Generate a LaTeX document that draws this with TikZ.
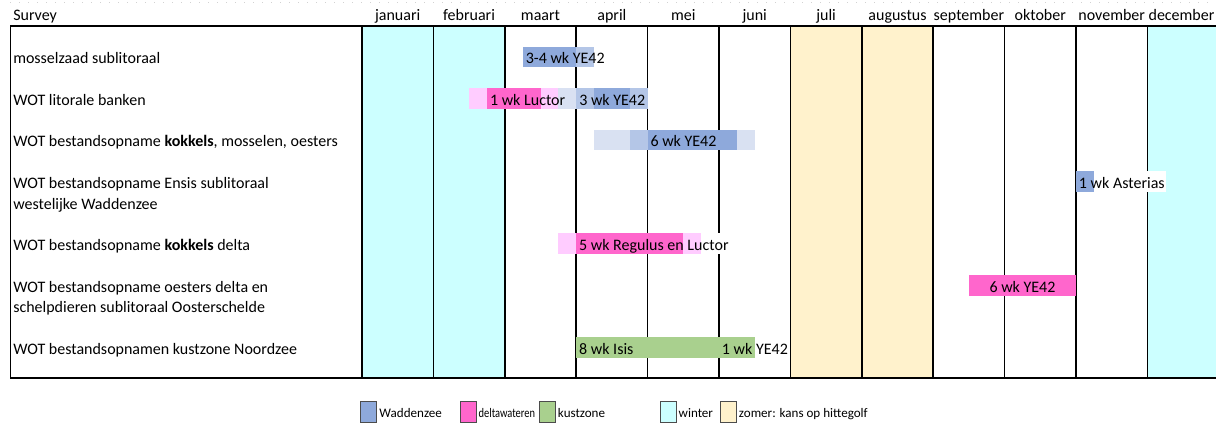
\documentclass[tikz,border=0pt]{standalone}
\usepackage{fontspec}
\setmainfont{Carlito}
\usepackage{tikz}
\usetikzlibrary{positioning}
\definecolor{waddenblue}{HTML}{8EA9DB}
\definecolor{waddenlight}{HTML}{B4C6E7}
\definecolor{waddenpale}{HTML}{D9E1F2}
\definecolor{deltapink}{HTML}{FF66CC}
\definecolor{deltalight}{HTML}{FFCCFF}
\definecolor{kustgreen}{HTML}{A9D08E}
\definecolor{wintercyan}{HTML}{CCFFFF}
\definecolor{zomeryellow}{HTML}{FFF2CC}

\begin{document}
\begin{tikzpicture}[
    x=0.75pt, y=-0.75pt,
    header/.style={anchor=base, inner sep=0pt, font=\fontsize{12}{14}\selectfont},
    survey/.style={anchor=base west, inner sep=0pt, font=\fontsize{12}{14}\selectfont},
    bartext/.style={anchor=base west, inner sep=0pt, font=\fontsize{12}{14}\selectfont},
    monthline/.style={line width=1.2pt},
    frame/.style={line width=2pt},
    legendbox/.style={draw=black!70, line width=0.6pt, minimum width=12pt, minimum height=15.75pt, inner sep=0pt},
    legendtext/.style={inner sep=0pt, text height=9pt, text depth=0.6pt, font=\fontsize{9.8}{12}\selectfont}
]
\useasboundingbox (0,0) rectangle (1216,423);
\draw[gray!35, line width=0.6pt, dash pattern=on 0.75pt off 6pt] (10,2) -- (1216,2);

% seasons
\fill[wintercyan] (362,26) rectangle (504.8,378);
\fill[wintercyan] (1147.4,26) rectangle (1218.8,378);
\fill[zomeryellow] (790.4,26) rectangle (933.2,378);

% header
\node[survey] (survey) at (13,21) {Survey};
\node[header] (jan) at (397.7,21) {januari};
\node[header] (feb) at (469.1,21) {februari};
\node[header] (mrt) at (540.5,21) {maart};
\node[header] (apr) at (611.9,21) {april};
\node[header] (mei) at (683.3,21) {mei};
\node[header] (jun) at (754.7,21) {juni};
\node[header] (jul) at (826.1,21) {juli};
\node[header] (aug) at (897.5,21) {augustus};
\node[header] (sep) at (968.9,21) {september};
\node[header] (okt) at (1040.3,21) {oktober};
\node[header] (nov) at (1111.7,21) {november};
\node[header] (dec) at (1181.5,21) {december};

\draw[monthline] (362,26) -- (362,378) (433.4,26) -- (433.4,378)
    (504.8,26) -- (504.8,378) (576.2,26) -- (576.2,378)
    (647.6,26) -- (647.6,378) (719,26) -- (719,378)
    (790.4,26) -- (790.4,378) (861.8,26) -- (861.8,378)
    (933.2,26) -- (933.2,378) (1004.6,26) -- (1004.6,378)
    (1076,26) -- (1076,378) (1147.4,26) -- (1147.4,378);
\draw[line width=0.75pt] (10,26) -- (10,378);
\draw[frame] (10,26) -- (1218.8,26);
\draw[frame] (10,378) -- (1218.8,378);

% surveys
\node[survey] (mosselzaad) at (13,64) {mosselzaad sublitoraal};
\node[survey] (litorale) at (13,105.5) {WOT litorale banken};
\node[survey] (kokkels) at (13,147) {WOT bestandsopname \textbf{kokkels}, mosselen, oesters};
\node[survey] (ensis) at (13,188.5) {WOT bestandsopname Ensis sublitoraal};
\node[survey] (ensisb) at (13,209.25) {westelijke Waddenzee};
\node[survey] (kokdelta) at (13,250.75) {WOT bestandsopname \textbf{kokkels} delta};
\node[survey] (oesters) at (13,292.25) {WOT bestandsopname oesters delta en};
\node[survey] (oestersb) at (13,313) {schelpdieren sublitoraal Oosterschelde};
\node[survey] (kust) at (13,354.5) {WOT bestandsopnamen kustzone Noordzee};

% bars
\fill[waddenblue] (522.65,46.75) rectangle (576.2,67.5);
\fill[waddenlight] (576.2,46.75) rectangle (594.05,67.5);
\node[bartext] (mosselbar) at (525.5,64) {3-4 wk YE42};

\fill[deltalight] (469.1,88.25) rectangle (486.95,109);
\fill[deltapink] (486.95,88.25) rectangle (540.5,109);
\fill[deltalight] (540.5,88.25) rectangle (558.35,109);
\fill[waddenpale] (558.35,88.25) rectangle (576.2,109);
\fill[waddenlight] (576.2,88.25) rectangle (594.05,109);
\fill[waddenblue] (594.05,88.25) rectangle (629.75,109);
\fill[waddenlight] (629.75,88.25) rectangle (647.6,109);
\node[bartext] (luctorbar) at (489.8,105.5) {1 wk Luctor};
\node[bartext] (litbar) at (579,105.5) {3 wk YE42};

\fill[waddenpale] (594.05,129.75) rectangle (629.75,150.5);
\fill[waddenlight] (629.75,129.75) rectangle (647.6,150.5);
\fill[waddenblue] (647.6,129.75) rectangle (736.85,150.5);
\fill[waddenpale] (736.85,129.75) rectangle (754.7,150.5);
\node[bartext] (kokbar) at (650.3,147) {6 wk YE42};

\fill[white] (1093.85,171.25) rectangle (1166,192);
\fill[waddenblue] (1076,171.25) rectangle (1093.85,192);
\node[bartext] (ensisbar) at (1078.7,188.5) {1 wk Asterias};

\fill[white] (701.15,233.5) rectangle (729,254.25);
\fill[deltalight] (558.35,233.5) rectangle (576.2,254.25);
\fill[deltapink] (576.2,233.5) rectangle (683.3,254.25);
\fill[deltalight] (683.3,233.5) rectangle (701.15,254.25);
\node[bartext] (deltabar) at (578.9,250.75) {5 wk Regulus en Luctor};

\fill[deltapink] (968.9,275) rectangle (1076,295.75);
\node[header] (oestersbar) at (1022.45,292.25) {6 wk YE42};

\fill[kustgreen] (576.2,337.25) rectangle (754.7,358);
\node[bartext] (isisbar) at (578.9,354.5) {8 wk Isis};
\node[bartext] (kustbar) at (721.7,354.5) {1 wk YE42};

% legend
\node[legendbox, fill=waddenblue] (lgwadden) at (368.8,411.5) {};
\node[legendtext, right=1.5pt of lgwadden] (txwadden) {Waddenzee};
\node[legendbox, fill=deltapink] (lgdelta) at (468,411.5) {};
\node[legendtext, right=1.5pt of lgdelta] (txdelta) {\scalebox{0.8}[1]{deltawateren}};
\node[legendbox, fill=kustgreen] (lgkust) at (547.3,411.5) {};
\node[legendtext, right=1.5pt of lgkust] (txkust) {kustzone};
\node[legendbox, fill=wintercyan] (lgwinter) at (668,411.5) {};
\node[legendtext, right=1.5pt of lgwinter] (txwinter) {winter};
\node[legendbox, fill=zomeryellow] (lgzomer) at (728.3,411.5) {};
\node[legendtext, right=1.5pt of lgzomer] (txzomer) {zomer: kans op hittegolf};

\end{tikzpicture}
\end{document}
